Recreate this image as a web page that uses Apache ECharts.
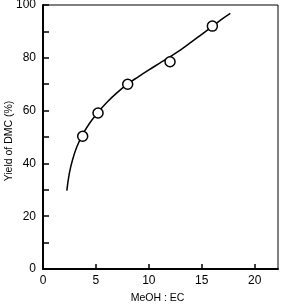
<!DOCTYPE html>
<html><head><meta charset="utf-8">
<script src="https://cdn.jsdelivr.net/npm/echarts@6/dist/echarts.min.js"></script>
<style>html,body{margin:0;padding:0;background:#fff}#c{width:283px;height:307px}</style>
</head><body><div id="c"></div>
<script>
const xTitle = 'MeOH : EC';
const yTitle = 'Yield of DMC (%)';
const ratio = [3.75, 5.2, 8.0, 12.0, 16.0];
const yieldDMC = [50.3, 59.1, 70.0, 78.5, 92.0];
const curveX = [2.25, 2.5, 2.8, 3.2, 3.75, 4.4, 5.2, 6.0, 7.0, 8.0, 9.0, 10.0, 11.0, 12.0, 13.0, 14.0, 15.0, 16.0, 17.0, 17.7];
const curveY = [29.7, 36.5, 41.5, 46.3, 51.0, 55.2, 59.4, 63.0, 66.8, 70.1, 72.8, 75.4, 77.9, 80.4, 83.0, 85.9, 88.9, 91.9, 94.9, 96.8];

const font = 'Liberation Sans, Arial, Helvetica, sans-serif';
const chart = echarts.init(document.getElementById('c'));
chart.setOption({
  animation: false,
  backgroundColor: '#fff',
  grid: {left: 43, top: 5, right: 5, bottom: 38, show: true, borderColor: '#000', borderWidth: 1,
         containLabel: false, outerBoundsMode: 'none'},
  xAxis: {
    type: 'value', min: 0, max: 22.2, interval: 5,
    name: xTitle, nameLocation: 'middle', nameGap: 24, nameMoveOverlap: false,
    nameTextStyle: {fontFamily: font, fontSize: 10.5, color: '#000', padding: [0, 6, 0, 0]},
    axisLine: {lineStyle: {color: '#000', width: 2}},
    axisTick: {inside: true, length: 5, lineStyle: {color: '#000', width: 1.5}},
    axisLabel: {fontFamily: font, fontSize: 12, color: '#000', margin: 6, showMaxLabel: false,
      formatter: v => (v % 5 === 0 ? String(v) : '')},
    splitLine: {show: false}
  },
  yAxis: {
    type: 'value', min: 0, max: 100, interval: 10,
    name: yTitle, nameLocation: 'middle', nameGap: 28, nameRotate: 90, nameMoveOverlap: false,
    nameTextStyle: {fontFamily: font, fontSize: 10.5, color: '#000', padding: [0, 8, 0, 0]},
    axisLine: {lineStyle: {color: '#000', width: 2}},
    axisTick: {inside: true, length: 6, lineStyle: {color: '#000', width: 1.5}},
    axisLabel: {fontFamily: font, fontSize: 12, color: '#000', margin: 7,
      formatter: v => (v % 20 === 0 ? String(v) : '')},
    splitLine: {show: false}
  },
  series: [
    {type: 'line', data: curveX.map((x, i) => [x, curveY[i]]), smooth: 0.4, showSymbol: false,
     lineStyle: {color: '#000', width: 1.5}, z: 2},
    {type: 'scatter', data: ratio.map((x, i) => [x, yieldDMC[i]]), symbol: 'circle', symbolSize: 10,
     itemStyle: {color: '#fff', borderColor: '#000', borderWidth: 1.5, opacity: 1}, z: 3}
  ]
});
</script></body></html>
